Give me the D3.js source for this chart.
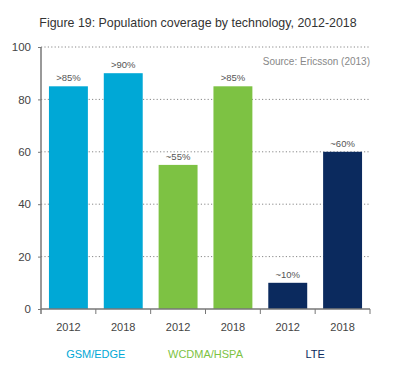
<!doctype html>
<html>
<head>
  <meta charset="UTF-8" />
  <title>Population coverage by technology</title>
  <style>
    html, body { margin: 0; background: #fff; }
    svg { font-family: "Liberation Sans", Arial, sans-serif; }
    .grid line { stroke: #888; stroke-dasharray: 1.2 2.2; }
    .axis path, .axis line { stroke: #777; }
    .axis text { fill: #444; }
  </style>
</head>
<body>
  <script src="https://cdn.jsdelivr.net/npm/d3@7"></script>
  <script>
    // data
    const technologies = ['GSM/EDGE', 'WCDMA/HSPA', 'LTE'];
    const years = ['2012', '2018', '2012', '2018', '2012', '2018'];
    const techOfBar = [0, 0, 1, 1, 2, 2];
    const coverage = [85, 90, 55, 85, 10, 60];
    const valueLabels = ['>85%', '>90%', '~55%', '>85%', '~10%', '~60%'];
    const yTicks = [0, 20, 40, 60, 80, 100];
    const colors = ['#00a8d6', '#7dc243', '#0b2a5e'];

    const width = 400, height = 365;
    const margin = { top: 47, right: 30, bottom: 56, left: 41 };

    const svg = d3.select('body').append('svg')
      .attr('width', width)
      .attr('height', height);

    svg.append('text')
      .attr('x', 198).attr('y', 27)
      .attr('text-anchor', 'middle')
      .attr('font-size', 12.4)
      .attr('fill', '#333')
      .text('Figure 19: Population coverage by technology, 2012-2018');

    const x = d3.scaleBand()
      .domain(d3.range(coverage.length))
      .range([margin.left, width - margin.right])
      .paddingInner(0.29)
      .paddingOuter(0.145);

    const y = d3.scaleLinear()
      .domain([0, 100])
      .range([height - margin.bottom, margin.top]);

    // dotted grid
    svg.append('g').attr('class', 'grid')
      .selectAll('line')
      .data(yTicks.filter(d => d > 0))
      .join('line')
      .attr('x1', margin.left).attr('x2', width - margin.right)
      .attr('y1', d => y(d)).attr('y2', d => y(d));

    svg.append('text')
      .attr('x', width - margin.right).attr('y', 65)
      .attr('text-anchor', 'end')
      .attr('font-size', 10)
      .attr('fill', '#888')
      .text('Source: Ericsson (2013)');

    // bars
    svg.append('g')
      .selectAll('rect')
      .data(coverage)
      .join('rect')
      .attr('x', (d, i) => x(i))
      .attr('width', x.bandwidth())
      .attr('y', d => y(d))
      .attr('height', d => y(0) - y(d))
      .attr('fill', (d, i) => colors[techOfBar[i]]);

    svg.append('g')
      .selectAll('text')
      .data(coverage)
      .join('text')
      .attr('x', (d, i) => x(i) + x.bandwidth() / 2)
      .attr('y', d => y(d) - 5)
      .attr('text-anchor', 'middle')
      .attr('font-size', 9.5)
      .attr('fill', '#555')
      .text((d, i) => valueLabels[i]);

    // y axis
    const yAxis = svg.append('g').attr('class', 'axis')
      .attr('transform', `translate(${margin.left},0)`)
      .call(d3.axisLeft(y).tickValues(yTicks).tickSize(3).tickSizeOuter(0));
    yAxis.select('.domain').attr('d', `M0,${y(100)}V${y(0) + 5}`).attr('stroke-width', 1.5);
    yAxis.selectAll('.tick text').attr('x', -10).attr('font-size', 11.5);

    // x axis baseline and separator ticks between bars
    const gap = (x.step() - x.bandwidth()) / 2;
    svg.append('line')
      .attr('x1', margin.left).attr('x2', width - margin.right)
      .attr('y1', y(0)).attr('y2', y(0))
      .attr('stroke', '#777').attr('stroke-width', 1.5);
    svg.append('g')
      .selectAll('line')
      .data(d3.range(1, coverage.length + 1))
      .join('line')
      .attr('x1', i => x(i - 1) + x.bandwidth() + gap)
      .attr('x2', i => x(i - 1) + x.bandwidth() + gap)
      .attr('y1', y(0)).attr('y2', y(0) + 5)
      .attr('stroke', '#777');

    svg.append('g')
      .selectAll('text')
      .data(years)
      .join('text')
      .attr('x', (d, i) => x(i) + x.bandwidth() / 2)
      .attr('y', y(0) + 22)
      .attr('text-anchor', 'middle')
      .attr('font-size', 11)
      .attr('fill', '#444')
      .text(d => d);

    svg.append('g')
      .selectAll('text')
      .data(technologies)
      .join('text')
      .attr('x', (d, i) => (x(i * 2) + x(i * 2 + 1) + x.bandwidth()) / 2)
      .attr('y', y(0) + 49)
      .attr('text-anchor', 'middle')
      .attr('font-size', 11)
      .attr('fill', (d, i) => colors[i])
      .text(d => d);
  </script>
</body>
</html>
